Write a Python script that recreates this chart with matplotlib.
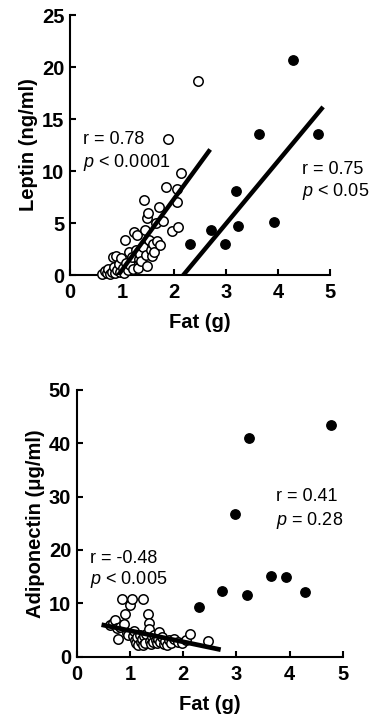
import matplotlib
matplotlib.use("Agg")
import matplotlib.pyplot as plt

plt.rcParams['font.family'] = ['Liberation Sans', 'DejaVu Sans']
plt.rcParams['mathtext.fontset'] = 'custom'
plt.rcParams['mathtext.it'] = 'Liberation Sans:italic'
plt.rcParams['mathtext.rm'] = 'Liberation Sans'

# ---------------- Data: Leptin vs Fat ----------------
lep_open = [(0.62,0.1),(0.67,0.4),(0.71,0.2),(0.74,0.6),(0.77,0.1),(0.80,0.3),(0.82,1.7),(0.84,0.8),
            (0.87,0.2),(0.89,1.8),(0.91,0.5),(0.94,1.1),(0.96,0.3),(0.99,1.6),(1.01,0.7),(1.04,0.2),
            (1.06,3.4),(1.08,1.2),(1.11,0.5),(1.13,2.2),(1.16,1.0),(1.19,1.7),(1.21,0.6),(1.24,4.1),
            (1.26,2.4),(1.28,3.8),(1.30,0.7),(1.33,1.5),(1.35,2.0),(1.37,1.3),(1.40,2.7),(1.42,7.2),
            (1.44,4.3),(1.46,1.9),(1.48,0.9),(1.49,5.5),(1.50,6.0),(1.52,3.4),(1.55,2.4),(1.57,1.8),
            (1.60,3.0),(1.62,2.2),(1.65,5.0),(1.68,3.3),(1.72,6.5),(1.73,2.9),(1.79,5.2),(1.85,8.5),
            (1.89,13.1),(1.96,4.2),(2.05,8.3),(2.06,7.0),(2.08,4.6),(2.13,9.8),(2.47,18.65)]
lep_open_x = [p[0] for p in lep_open]
lep_open_y = [p[1] for p in lep_open]

lep_filled_x = [2.31, 2.72, 2.98, 3.19, 3.24, 3.64, 3.92, 4.29, 4.76]
lep_filled_y = [3.0, 4.3, 3.0, 8.1, 4.7, 13.6, 5.1, 20.7, 13.6]

lep_fit_open_x = [0.93, 2.67]
lep_fit_open_y = [0.0, 11.9]
lep_fit_filled_x = [2.18, 4.84]
lep_fit_filled_y = [0.0, 16.0]

# ---------------- Data: Adiponectin vs Fat ----------------
adi_open = [(0.62,5.9),(0.68,6.4),(0.72,6.9),(0.76,5.3),(0.78,3.4),(0.82,5.6),(0.86,10.8),(0.88,6.2),
            (0.91,8.0),(0.94,4.5),(0.97,4.1),(1.01,9.7),(1.03,10.8),(1.05,3.8),(1.08,4.8),(1.10,3.2),
            (1.12,2.5),(1.14,3.6),(1.16,2.2),(1.18,4.0),(1.20,2.8),(1.22,3.3),(1.24,10.8),(1.25,2.1),
            (1.27,3.9),(1.29,2.6),(1.31,4.3),(1.33,8.0),(1.35,6.4),(1.36,5.2),(1.38,3.0),(1.40,2.4),
            (1.42,3.6),(1.44,2.7),(1.46,4.1),(1.48,3.1),(1.50,2.5),(1.52,3.4),(1.54,4.6),(1.57,2.8),
            (1.60,3.6),(1.63,2.3),(1.66,3.0),(1.70,2.1),(1.74,3.2),(1.78,2.6),(1.82,3.3),(1.90,2.7),
            (1.97,2.5),(2.06,3.1),(2.12,4.2),(2.47,3.0)]
adi_open_x = [p[0] for p in adi_open]
adi_open_y = [p[1] for p in adi_open]

adi_filled_x = [2.30, 2.73, 2.98, 3.19, 3.24, 3.65, 3.93, 4.28, 4.77]
adi_filled_y = [9.4, 12.3, 26.8, 11.6, 41.0, 15.2, 15.0, 12.1, 43.5]

adi_fit_open_x = [0.51, 2.66]
adi_fit_open_y = [5.9, 1.4]

x_ticks = [0, 1, 2, 3, 4, 5]
lep_ticks = [0, 5, 10, 15, 20, 25]
adi_ticks = [0, 10, 20, 30, 40, 50]

# ---------------- Figure ----------------
fig = plt.figure(figsize=(3.73, 7.19), dpi=100)
ax1 = fig.add_axes([0.1877, 0.6175, 0.697, 0.3616])
ax2 = fig.add_axes([0.2056, 0.0867, 0.714, 0.371])

tick_fs = 14.5
lab_fs = 14.5
ann_fs = 13

def style(ax, yticks):
    ax.set_xlim(0, 5)
    ax.set_ylim(yticks[0], yticks[-1])
    ax.set_xticks(x_ticks)
    ax.set_yticks(yticks)
    for s in ['top', 'right']:
        ax.spines[s].set_visible(False)
    for s in ['left', 'bottom']:
        ax.spines[s].set_linewidth(1.5)
    ax.tick_params(direction='in', length=4, width=1.5, labelsize=tick_fs)
    ax.tick_params(axis='x', pad=6)
    ax.tick_params(axis='y', pad=4)
    for lab in ax.get_xticklabels() + ax.get_yticklabels():
        lab.set_fontweight('bold')
    ax.set_xlabel('Fat (g)', fontsize=lab_fs, fontweight='bold', labelpad=8)

ms = 46
# Top
ax1.scatter(lep_open_x, lep_open_y, s=ms, facecolors='white', edgecolors='black', linewidths=1.1, zorder=3, clip_on=False)
ax1.scatter(lep_filled_x, lep_filled_y, s=ms, color='black', zorder=3)
ax1.plot(lep_fit_open_x, lep_fit_open_y, color='black', lw=3.2, zorder=4)
ax1.plot(lep_fit_filled_x, lep_fit_filled_y, color='black', lw=3.2, zorder=4)
style(ax1, lep_ticks)
ax1.set_ylabel('Leptin (ng/ml)', fontsize=lab_fs, fontweight='bold', labelpad=3)
ax1.text(0.25, 13.0, 'r = 0.78', fontsize=ann_fs, va='center', ha='left')
ax1.text(0.25, 10.8, '$p$ < 0.0001', fontsize=ann_fs, va='center', ha='left')
ax1.text(4.46, 10.1, 'r = 0.75', fontsize=ann_fs, va='center', ha='left', clip_on=False)
ax1.text(4.46, 8.0, '$p$ < 0.05', fontsize=ann_fs, va='center', ha='left', clip_on=False)

# Bottom
ax2.scatter(adi_open_x, adi_open_y, s=ms, facecolors='white', edgecolors='black', linewidths=1.1, zorder=3)
ax2.scatter(adi_filled_x, adi_filled_y, s=ms, color='black', zorder=3)
ax2.plot(adi_fit_open_x, adi_fit_open_y, color='black', lw=3.4, zorder=4)
style(ax2, adi_ticks)
ax2.set_ylabel('Adiponectin (\u03bcg/ml)', fontsize=lab_fs, fontweight='bold', labelpad=3)
ax2.text(0.25, 18.4, 'r = -0.48', fontsize=ann_fs, va='center', ha='left')
ax2.text(0.25, 14.4, '$p$ < 0.005', fontsize=ann_fs, va='center', ha='left')
ax2.text(3.75, 30.0, 'r = 0.41', fontsize=ann_fs, va='center', ha='left')
ax2.text(3.75, 25.6, '$p$ = 0.28', fontsize=ann_fs, va='center', ha='left')

fig.savefig('out.png', dpi=100, facecolor='white')
